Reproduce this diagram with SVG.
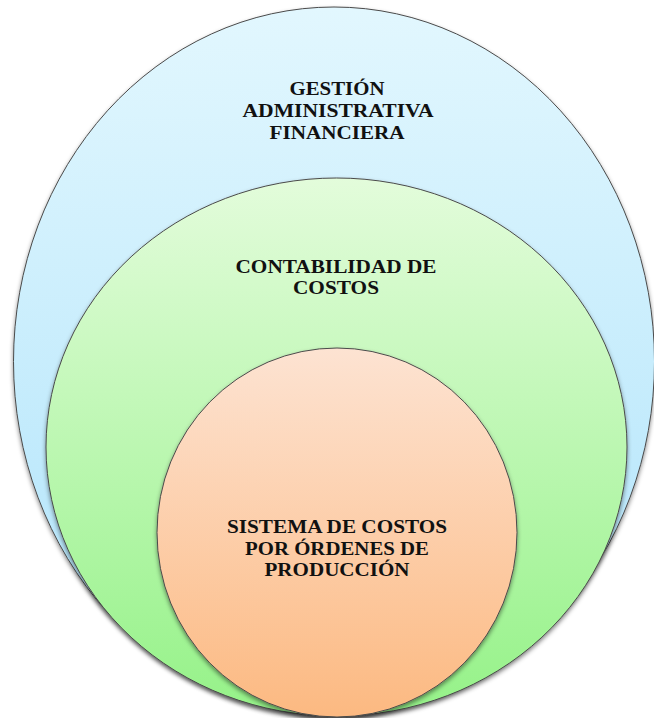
<svg xmlns="http://www.w3.org/2000/svg" width="654" height="718" viewBox="0 0 654 718">
  <style>
    .shape { stroke: #4a4a4a; stroke-width: 1; filter: url(#shadow); }
    text { font-family: 'Liberation Serif', 'Times New Roman', serif; font-weight: bold; font-size: 19px; fill: #111; text-anchor: middle; }
  </style>
  <defs>
    <linearGradient id="gBlue" x1="0" y1="0" x2="0" y2="1">
      <stop offset="0" stop-color="#e2f7fe"/>
      <stop offset="1" stop-color="#aee3fb"/>
    </linearGradient>
    <linearGradient id="gGreen" x1="0" y1="0" x2="0" y2="1">
      <stop offset="0" stop-color="#e3fcdb"/>
      <stop offset="1" stop-color="#95f288"/>
    </linearGradient>
    <linearGradient id="gOrange" x1="0" y1="0" x2="0" y2="1">
      <stop offset="0" stop-color="#fde3d2"/>
      <stop offset="1" stop-color="#fcb981"/>
    </linearGradient>
    <filter id="shadow" x="-5%" y="-5%" width="110%" height="112%">
      <feDropShadow dx="0" dy="2.5" stdDeviation="2" flood-color="#000" flood-opacity="0.45"/>
    </filter>
  </defs>
  <rect width="654" height="718" fill="#ffffff"/>
  <g id="gestion">
    <ellipse class="shape" cx="334" cy="361.5" rx="320.5" ry="354.5" fill="url(#gBlue)"/>
    <text x="337" y="95" textLength="95" lengthAdjust="spacingAndGlyphs">GESTIÓN</text>
    <text x="338" y="117" textLength="191" lengthAdjust="spacingAndGlyphs">ADMINISTRATIVA</text>
    <text x="337" y="139" textLength="135" lengthAdjust="spacingAndGlyphs">FINANCIERA</text>
  </g>
  <g id="contabilidad">
    <ellipse class="shape" cx="336.5" cy="447" rx="290.5" ry="269" fill="url(#gGreen)"/>
    <text x="336" y="273" textLength="201" lengthAdjust="spacingAndGlyphs">CONTABILIDAD DE</text>
    <text x="336" y="294" textLength="86" lengthAdjust="spacingAndGlyphs">COSTOS</text>
  </g>
  <g id="sistema">
    <ellipse class="shape" cx="337" cy="532.5" rx="180" ry="184.5" fill="url(#gOrange)"/>
    <text x="337" y="533" textLength="220" lengthAdjust="spacingAndGlyphs">SISTEMA DE COSTOS</text>
    <text x="337" y="555" textLength="184" lengthAdjust="spacingAndGlyphs">POR ÓRDENES DE</text>
    <text x="337" y="576" textLength="145" lengthAdjust="spacingAndGlyphs">PRODUCCIÓN</text>
  </g>
  <g id="connectors"/>
</svg>
